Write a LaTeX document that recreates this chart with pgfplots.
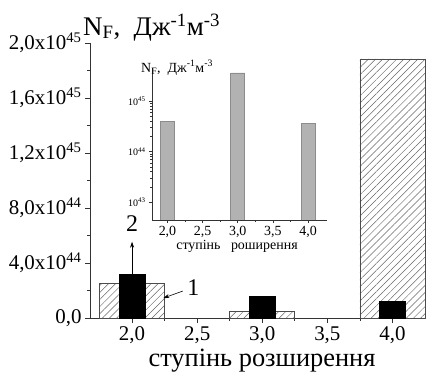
\documentclass[border=0pt]{standalone}
\usepackage{pgfplots}
\pgfplotsset{compat=1.18}
\usepackage{fontspec}
\setmainfont{Liberation Serif}
\usetikzlibrary{patterns.meta,arrows.meta}

\begin{document}
\begin{tikzpicture}[x=1bp,y=1bp]
\useasboundingbox (0,0) rectangle (435,371);
\begin{axis}[
  at={(90bp,53bp)}, anchor=south west, scale only axis,
  width=335bp, height=275bp,
  xmin=1.677, xmax=4.25, ymin=0, ymax=20,
  axis lines=left, axis line style={-, line width=1bp, black!80},
  xtick={2,2.5,3,3.5,4}, xticklabels={{2,0},{2,5},{3,0},{3,5},{4,0}},
  ytick={0,4,8,12,16,20},
  yticklabels={{0,0},{4,0x10\textsuperscript{44}},{8,0x10\textsuperscript{44}},{1,2x10\textsuperscript{45}},{1,6x10\textsuperscript{45}},{2,0x10\textsuperscript{45}}},
  minor x tick num=1, minor y tick num=1,
  tick align=outside, major tick length=5bp, minor tick length=3bp,
  tick style={line width=0.8bp, black!80},
  ticklabel style={font=\fontsize{21}{22}\selectfont},
  xticklabel style={yshift=-2.5bp, inner sep=1bp},
  clip=false,
]
\addplot[ybar, bar width=0.5, bar shift=0, draw=black!70, line width=0.8bp,
  pattern={Lines[angle=45,distance=5bp,line width=0.5bp]}, pattern color=black!60]
  coordinates {(2,2.5) (3,0.45) (4,18.84)};
\addplot[ybar, bar width=0.2, bar shift=0, fill=black, draw=black]
  coordinates {(2,3.2) (3,1.6) (4,1.2)};
\draw[-{Stealth[length=6bp,width=4bp]}, line width=0.6bp] (axis cs:2,3.2) -- (axis cs:2,5.55);
\node[font=\fontsize{24}{24}\selectfont] at (axis cs:2,6.9) {2};
\node[font=\fontsize{24}{24}\selectfont] at (axis cs:2.47,2.2) {1};
\draw[-{Stealth[length=6bp,width=4bp]}, line width=0.6bp] (axis cs:2.39,1.96) -- (axis cs:2.24,1.45);
\end{axis}

\begin{axis}[
  at={(152bp,151bp)}, anchor=south west, scale only axis,
  width=175bp, height=152bp,
  xmin=1.78, xmax=4.27, ymode=log, ymin=4.47e42, ymax=4.5e45,
  log origin y=infty,
  axis lines=left, axis line style={-, line width=0.8bp, black!80},
  xtick={2,2.5,3,3.5,4}, xticklabels={{2,0},{2,5},{3,0},{3,5},{4,0}},
  ytick={1e43,1e44,1e45},
  yticklabels={10\textsuperscript{43},10\textsuperscript{44},10\textsuperscript{45}},
  minor x tick num=1,
  tick align=outside, major tick length=3bp, minor tick length=2bp,
  tick style={line width=0.6bp, black!80},
  xticklabel style={font=\fontsize{14}{15}\selectfont},
  yticklabel style={font=\fontsize{10}{11}\selectfont},
]
\addplot[ybar, bar width=0.2, bar shift=0, fill=gray!60, draw=gray!90, line width=0.6bp]
  coordinates {(2,4e44) (3,3.6e45) (4,3.6e44)};
\end{axis}

\node[anchor=base west, font=\fontsize{27}{28}\selectfont, inner sep=0pt] at (83,336)
  {N\textsubscript{F}, \ Дж\textsuperscript{-1}м\textsuperscript{-3}};
\node[anchor=base west, font=\fontsize{14}{15}\selectfont, inner sep=0pt] at (141,299)
  {N\textsubscript{F}, \ Дж\textsuperscript{-1}м\textsuperscript{-3}};
\node[anchor=base, font=\fontsize{14}{15}\selectfont, inner sep=0pt] at (237,122)
  {ступінь \ \ роширення};
\node[anchor=base, font=\fontsize{26.5}{27}\selectfont, inner sep=0pt] at (262,5)
  {ступінь розширення};
\end{tikzpicture}
\end{document}
